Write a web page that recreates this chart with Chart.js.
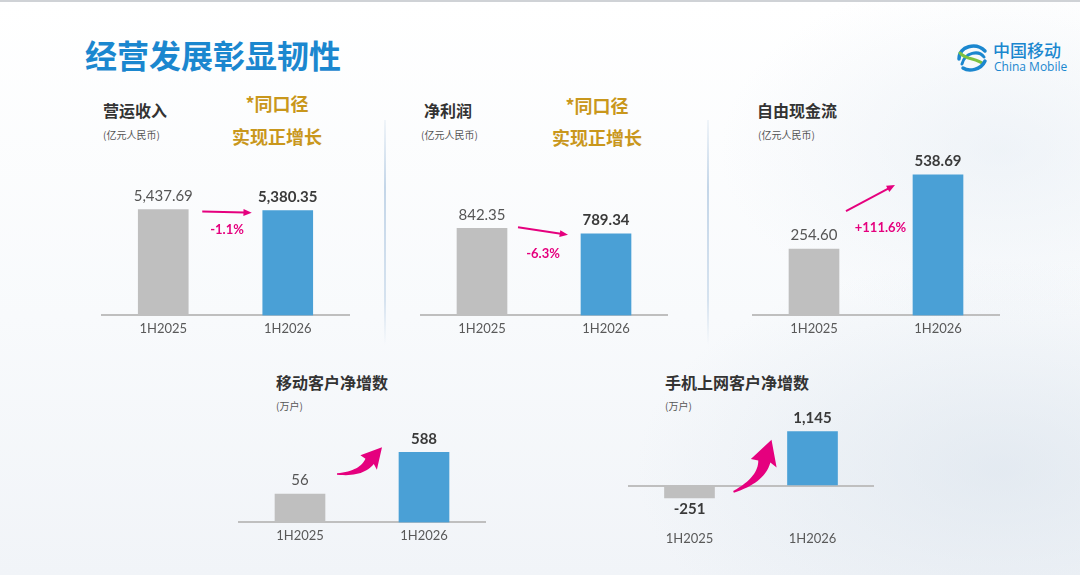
<!DOCTYPE html>
<html>
<head>
<meta charset="utf-8">
<script src="https://cdn.jsdelivr.net/npm/chart.js@4/dist/chart.umd.min.js"></script>
<style>
  html, body { margin: 0; padding: 0; }
  body {
    width: 1080px; height: 575px; overflow: hidden; position: relative;
    font-family: "Noto Sans CJK SC", "Noto Sans", sans-serif;
    background:
      radial-gradient(ellipse 520px 300px at 1000px 470px, rgba(214,224,234,0.55), rgba(255,255,255,0) 70%),
      radial-gradient(ellipse 400px 250px at 1000px 150px, rgba(226,234,242,0.5), rgba(255,255,255,0) 70%),
      linear-gradient(180deg, #ffffff 0%, #f8fafc 55%, #f1f4f8 100%);
    border-top: 2px solid #cfd2d6;
    box-sizing: border-box;
  }
  .t { position: absolute; white-space: nowrap; line-height: 1; }
  .main { left: 85px; top: 36px; font-size: 32px; font-weight: 700; color: #1b87cf; }
  .ct { font-size: 16px; font-weight: 700; color: #333; }
  .unit { font-size: 10px; color: #555; }
  .gold { font-size: 18px; font-weight: 700; color: #c9971c; transform: translateX(-50%); }
  .sep { position: absolute; width: 2px; background: linear-gradient(180deg, rgba(190,210,230,0.2), rgba(190,210,230,0.9) 30%, rgba(190,210,230,0.6) 80%, rgba(190,210,230,0)); }
  canvas { position: absolute; }
  .logo1 { left: 993px; top: 39px; font-size: 17px; color: #1b87cf; font-weight: 500; }
  .logo2 { left: 994px; top: 59px; font-size: 12px; color: #1b87cf; font-family: "Open Sans", sans-serif; }
</style>
</head>
<body>
<div class="t main">经营发展彰显韧性</div>

<svg style="position:absolute;left:954px;top:37px" width="36" height="36" viewBox="0 0 36 36">
  <path d="M5 20 C5 7 22 3 31 12" fill="none" stroke="#1b87cf" stroke-width="3.5" stroke-linecap="round"/>
  <path d="M8 25 C11 13 25 11 30 18" fill="none" stroke="#1b87cf" stroke-width="3" stroke-linecap="round"/>
  <path d="M6 14 C12 21 23 19 29 25" fill="none" stroke="#7cc242" stroke-width="3" stroke-linecap="round"/>
  <path d="M9 29 C15 33 27 31 31 22" fill="none" stroke="#1b87cf" stroke-width="3.5" stroke-linecap="round"/>
</svg>
<div class="t logo1">中国移动</div>
<div class="t logo2">China Mobile</div>

<div class="t ct" style="left:103px;top:100px">营运收入</div>
<div class="t unit" style="left:103px;top:128px">(亿元人民币)</div>
<div class="t gold" style="left:277px;top:92px">*同口径</div>
<div class="t gold" style="left:277px;top:125px">实现正增长</div>

<div class="t ct" style="left:424px;top:100px">净利润</div>
<div class="t unit" style="left:421px;top:128px">(亿元人民币)</div>
<div class="t gold" style="left:597px;top:94px">*同口径</div>
<div class="t gold" style="left:597px;top:126px">实现正增长</div>

<div class="t ct" style="left:757px;top:100px">自由现金流</div>
<div class="t unit" style="left:758px;top:128px">(亿元人民币)</div>

<div class="t ct" style="left:276px;top:372px">移动客户净增数</div>
<div class="t unit" style="left:276px;top:399px">(万户)</div>

<div class="t ct" style="left:665px;top:372px">手机上网客户净增数</div>
<div class="t unit" style="left:665px;top:399px">(万户)</div>

<div class="sep" style="left:384px;top:118px;height:225px"></div>
<div class="sep" style="left:707px;top:118px;height:225px"></div>

<canvas id="c1" width="249" height="171" style="left:101px;top:170px"></canvas>
<canvas id="c2" width="248" height="151" style="left:420px;top:190px"></canvas>
<canvas id="c3" width="248" height="201" style="left:752px;top:140px"></canvas>
<canvas id="c4" width="248" height="128" style="left:238px;top:420px"></canvas>
<canvas id="c5" width="246" height="151" style="left:628px;top:400px"></canvas>

<script>
// 数据
const periods = ['1H2025', '1H2026'];
const revenue = [5437.69, 5380.35];
const netProfit = [842.35, 789.34];
const freeCashFlow = [254.60, 538.69];
const mobileNetAdds = [56, 588];
const mobileDataNetAdds = [-251, 1145];
const changeLabels = ['-1.1%', '-6.3%', '+111.6%'];

const GRAY = '#bfbfbf';
const BLUE = '#4aa0d6';
const PINK = '#e5007e';

// 画数值标签和箭头
const notesPlugin = {
    id: 'notes',
    afterDatasetsDraw(chart, args, opts) {
        const ctx = chart.ctx;
        const bars = chart.getDatasetMeta(0).data;
        const values = chart.data.datasets[0].data;

        ctx.save();
        ctx.textAlign = 'center';
        bars.forEach((bar, i) => {
            const v = values[i];
            const bold = i === 1 || opts.firstBold;
            ctx.font = (bold ? '700 ' : '400 ') + '15px Lato, "Open Sans", sans-serif';
            ctx.fillStyle = bold ? '#3a3a3a' : '#555';
            const txt = v.toLocaleString('en-US', { minimumFractionDigits: opts.decimals, maximumFractionDigits: opts.decimals });
            if (v >= 0) {
                ctx.textBaseline = 'bottom';
                ctx.fillText(txt, bar.x, bar.y - 6);
            } else {
                ctx.textBaseline = 'top';
                ctx.fillText(txt, bar.x, bar.y + 4);
            }
        });

        const a = { x: bars[0].x + opts.from[0], y: bars[0].y + opts.from[1] };
        const b = { x: bars[1].x + opts.to[0], y: bars[1].y + opts.to[1] };
        ctx.fillStyle = PINK;
        ctx.strokeStyle = PINK;

        if (opts.arrow === 'line') {
            const ang = Math.atan2(b.y - a.y, b.x - a.x);
            const hl = 9;
            ctx.lineWidth = 2;
            ctx.beginPath();
            ctx.moveTo(a.x, a.y);
            ctx.lineTo(b.x - Math.cos(ang) * hl * 0.8, b.y - Math.sin(ang) * hl * 0.8);
            ctx.stroke();
            ctx.beginPath();
            ctx.moveTo(b.x, b.y);
            ctx.lineTo(b.x - Math.cos(ang - 0.4) * hl, b.y - Math.sin(ang - 0.4) * hl);
            ctx.lineTo(b.x - Math.cos(ang + 0.4) * hl, b.y - Math.sin(ang + 0.4) * hl);
            ctx.closePath();
            ctx.fill();

            ctx.font = '700 13px Lato, "Open Sans", sans-serif';
            ctx.textBaseline = 'middle';
            ctx.fillText(opts.pct, (a.x + b.x) / 2 + opts.pctAt[0], (a.y + b.y) / 2 + opts.pctAt[1]);
        } else {
            // 弯曲的大箭头
            const dx = b.x - a.x, dy = b.y - a.y;
            const L = Math.hypot(dx, dy);
            const ex = dx / L, ey = dy / L;
            const nx = -ey, ny = ex;
            const P = (u, v) => ({ x: a.x + (ex * u + nx * v) * L, y: a.y + (ey * u + ny * v) * L });
            const C = { u: 0.4, v: 0.24 }, H = { u: 0.66, v: 0.11 };
            const left = [], right = [];
            for (let k = 0; k <= 16; k++) {
                const t = k / 16;
                const u = 2 * (1 - t) * t * C.u + t * t * H.u;
                const v = 2 * (1 - t) * t * C.v + t * t * H.v;
                const du = 2 * (1 - t) * C.u + 2 * t * (H.u - C.u);
                const dv = 2 * (1 - t) * C.v + 2 * t * (H.v - C.v);
                const dl = Math.hypot(du, dv);
                const w = 0.015 + 0.08 * t;
                left.push(P(u - dv / dl * w, v + du / dl * w));
                right.push(P(u + dv / dl * w, v - du / dl * w));
            }
            const hu = 1 - H.u, hv = 0 - H.v;
            const hl = Math.hypot(hu, hv);
            const hw = 0.21;
            const h1 = P(H.u - hv / hl * hw - hu * 0.08, H.v + hu / hl * hw - hv * 0.08);
            const h2 = P(H.u + hv / hl * hw - hu * 0.08, H.v - hu / hl * hw - hv * 0.08);
            ctx.beginPath();
            ctx.moveTo(left[0].x, left[0].y);
            left.forEach(p => ctx.lineTo(p.x, p.y));
            ctx.lineTo(h1.x, h1.y);
            ctx.lineTo(b.x, b.y);
            ctx.lineTo(h2.x, h2.y);
            for (let k = right.length - 1; k >= 0; k--) ctx.lineTo(right[k].x, right[k].y);
            ctx.closePath();
            ctx.fill();
        }
        ctx.restore();
    }
};

function makeChart(id, values, yMin, yMax, notes, zeroLine) {
    const xScale = {
        grid: { display: false, drawTicks: false },
        border: { display: !zeroLine, color: GRAY, width: 2 },
        ticks: { color: '#595959', padding: 6, font: { family: 'Lato, "Open Sans", sans-serif', size: 13 } }
    };
    const yScale = zeroLine ? {
        min: yMin, max: yMax,
        afterBuildTicks: s => { s.ticks = [{ value: 0 }]; },
        ticks: { display: false },
        border: { display: false },
        grid: { drawTicks: false, color: GRAY, lineWidth: 2 }
    } : { display: false, min: yMin, max: yMax };

    return new Chart(document.getElementById(id), {
        type: 'bar',
        data: {
            labels: periods,
            datasets: [{
                data: values,
                backgroundColor: [GRAY, BLUE],
                barThickness: 50,
                base: yMin < 0 && !zeroLine ? yMin : 0
            }]
        },
        options: {
            responsive: false,
            animation: false,
            layout: { padding: 0 },
            plugins: { legend: { display: false }, tooltip: { enabled: false }, notes: notes },
            scales: { x: xScale, y: yScale }
        },
        plugins: [notesPlugin]
    });
}

makeChart('c1', revenue, 0, 7366,
    { decimals: 2, arrow: 'line', from: [39, 2], to: [-36, 2], pct: changeLabels[0], pctAt: [0, 18] });
makeChart('c2', netProfit, 0, 1194,
    { decimals: 2, arrow: 'line', from: [36, -1], to: [-38, 1], pct: changeLabels[1], pctAt: [0, 23] });
makeChart('c3', freeCashFlow, 0, 665,
    { decimals: 2, arrow: 'line', from: [32, -38], to: [-43, 10], pct: changeLabels[2], pctAt: [10, 30] });
makeChart('c4', mobileNetAdds, -307, 975,
    { decimals: 0, arrow: 'swoosh', from: [37, -20], to: [-42, -5] });
makeChart('c5', mobileDataNetAdds, -833, 1771,
    { decimals: 0, firstBold: true, arrow: 'swoosh', from: [44, -6], to: [-41, 8] }, true);
</script>
</body>
</html>
